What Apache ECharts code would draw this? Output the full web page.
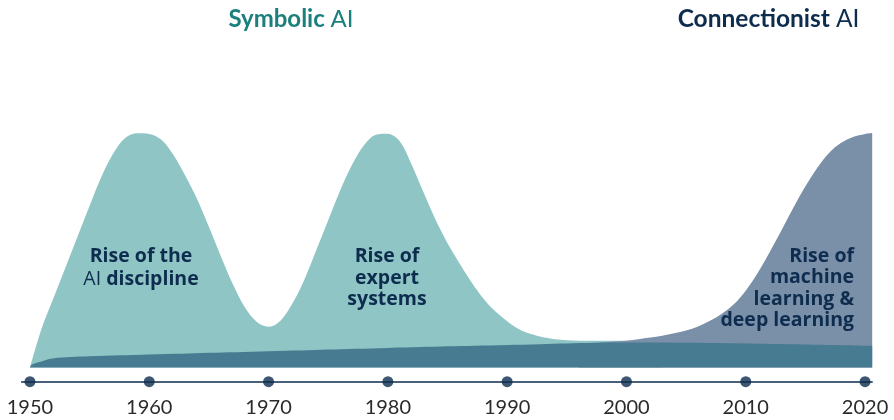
<!DOCTYPE html>
<html>
<head>
<meta charset="utf-8">
<script src="https://cdn.jsdelivr.net/npm/echarts@6/dist/echarts.min.js"></script>
<style>
  html, body { margin: 0; padding: 0; background: #fff; }
  #chart { width: 894px; height: 420px; }
</style>
</head>
<body>
<div id="chart"></div>
<script>
// decades shown on the timeline
var years = [1950, 1960, 1970, 1980, 1990, 2000, 2010, 2020];

// symbolic AI interest (two waves), one point per year
var symbolicYears = [];
for (var y = 1950; y <= 2003; y++) symbolicYears.push(y);
var symbolicValues = [
  0, 17, 30, 43, 56, 69, 81.5, 91.5, 98, 99.9,
  99.6, 97.2, 90.8, 82, 72, 60, 47.5, 35.6, 25.8, 19.5,
  17.4, 20, 27.3, 37.5, 50, 62.8, 75.5, 86.5, 94.8, 99.3,
  99.7, 96.5, 86.5, 74.6, 63, 53, 44.5, 36.5, 29.5, 24,
  19.8, 16.4, 14.3, 12.9, 12.1, 11.7, 11.5, 11.5, 11.5, 11.5,
  11.5, 11.5, 11.5, 11.5
];

// connectionist AI interest
var connectionistYears = [1996, 1998, 2000, 2001, 2002, 2003, 2004, 2005, 2006, 2007, 2008,
  2009, 2010, 2011, 2012, 2013, 2014, 2015, 2016, 2017, 2018, 2019, 2020, 2020.6];
var connectionistValues = [10, 10.8, 11.5, 12.1, 12.8, 13.6, 14.6, 15.8, 17.5, 20, 23,
  27, 32.8, 40.3, 49.2, 58.6, 68.2, 77.3, 85.2, 91.6, 95.8, 98.3, 99.6, 100];

// the thin base band underneath
var baseYears = [1950, 1950.15, 1950.8, 1951.9, 1955, 1960, 1970, 1980, 1990, 2000, 2010, 2020.6];
var baseValues = [0, 1.2, 2.4, 3.9, 4.8, 5.6, 7.0, 8.4, 9.6, 10.7, 10.3, 9.3];

function pairs(xs, ys) {
  return xs.map(function (x, i) { return [x, ys[i]]; });
}

var navy = '#0d2c4e';
var chart = echarts.init(document.getElementById('chart'));

var option = {
  backgroundColor: '#ffffff',
  animation: false,
  textStyle: { fontFamily: 'Lato' },
  grid: { left: 21.6, right: 21.8, top: 133, bottom: 38.3 },
  xAxis: {
    type: 'value',
    min: 1949.3,
    max: 2020.6,
    splitLine: { show: false },
    axisLine: { onZero: false, lineStyle: { color: navy, width: 1.5 } },
    axisTick: { show: false },
    axisLabel: {
      customValues: years,
      color: '#2b2b2b',
      fontSize: 20,
      margin: 16,
      formatter: function (v) { return String(v); }
    }
  },
  yAxis: {
    type: 'value',
    min: -6,
    max: 100,
    show: false
  },
  series: [
    {
      name: 'Symbolic AI',
      type: 'line',
      data: pairs(symbolicYears, symbolicValues),
      smooth: 0.33,
      showSymbol: false,
      lineStyle: { width: 0 },
      areaStyle: { color: '#8fc6c5', opacity: 1 },
      z: 1
    },
    {
      name: 'Connectionist AI',
      type: 'line',
      data: pairs(connectionistYears, connectionistValues),
      smooth: 0.33,
      showSymbol: false,
      lineStyle: { width: 0 },
      areaStyle: { color: '#7a8fa8', opacity: 1 },
      z: 2
    },
    {
      name: 'Base',
      type: 'line',
      data: pairs(baseYears, baseValues),
      smooth: 0.4,
      showSymbol: false,
      lineStyle: { width: 0 },
      areaStyle: { color: '#477b91', opacity: 1 },
      z: 3
    },
    {
      name: 'Decades',
      type: 'scatter',
      data: years.map(function (y) { return [y, -6]; }),
      symbolSize: 11,
      clip: false,
      itemStyle: { color: navy },
      z: 5
    }
  ]
};

function richStyle(font, size, color, lh) {
  return {
    b: { fontFamily: font, fontWeight: 'bold', fontSize: size, fill: color, lineHeight: lh },
    r: { fontFamily: font, fontWeight: 'normal', fontSize: size, fill: color, lineHeight: lh }
  };
}

option.graphic = [
  {
    type: 'text', x: 291, y: 19,
    style: {
      text: '{b|Symbolic }{r|AI}', align: 'center', verticalAlign: 'middle',
      rich: richStyle('Lato', 24, '#1b7f7b', 28)
    }
  },
  {
    type: 'text', x: 768.5, y: 19,
    style: {
      text: '{b|Connectionist }{r|AI}', align: 'center', verticalAlign: 'middle',
      rich: richStyle('Lato', 24.5, navy, 28)
    }
  },
  {
    type: 'text', x: 141, y: 268, z: 10,
    style: {
      text: '{b|Rise of the}\n{r|AI }{b|discipline}', align: 'center', verticalAlign: 'middle',
      rich: richStyle('Open Sans', 19.5, navy, 23)
    }
  },
  {
    type: 'text', x: 387, y: 278, z: 10,
    style: {
      text: '{b|Rise of}\n{b|expert}\n{b|systems}', align: 'center', verticalAlign: 'middle',
      rich: richStyle('Open Sans', 19.5, navy, 21.6)
    }
  },
  {
    type: 'text', x: 854, y: 288.5, z: 10,
    style: {
      text: '{b|Rise of}\n{b|machine}\n{b|learning &}\n{b|deep learning}', align: 'right', verticalAlign: 'middle',
      rich: richStyle('Open Sans', 19.5, navy, 21.3)
    }
  }
];

chart.setOption(option);
</script>
</body>
</html>
